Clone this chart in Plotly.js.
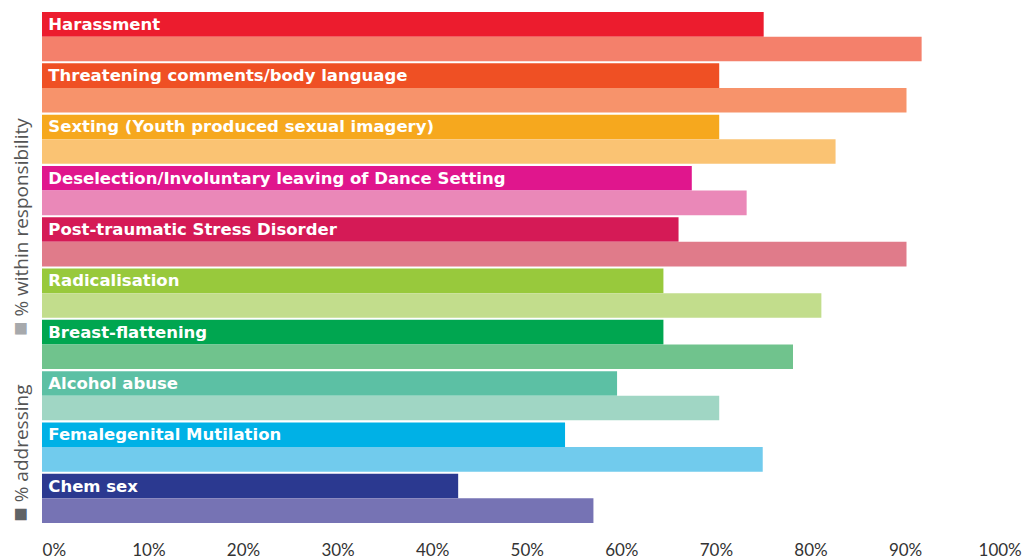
<!DOCTYPE html>
<html>
<head>
<meta charset="utf-8">
<script src="https://cdn.plot.ly/plotly-3.0.1.min.js"></script>
<style>
  html, body { margin: 0; padding: 0; background: #ffffff; }
  #chart { width: 1030px; height: 560px; }
</style>
</head>
<body>
<div id="chart"></div>
<script>
const categories = [
  "Harassment",
  "Threatening comments/body language",
  "Sexting (Youth produced sexual imagery)",
  "Deselection/Involuntary leaving of Dance Setting",
  "Post-traumatic Stress Disorder",
  "Radicalisation",
  "Breast-flattening",
  "Alcohol abuse",
  "Femalegenital Mutilation",
  "Chem sex"
];
const addressing = [75, 70.3, 70.3, 67.4, 66, 64.4, 64.4, 59.5, 54, 42.7];
const withinResponsibility = [91.7, 90.1, 82.6, 73.2, 90.1, 81.1, 78.1, 70.3, 74.9, 57];
const tickValues = [0, 10, 20, 30, 40, 50, 60, 70, 80, 90, 100];
const tickLabels = ["0%", "10%", "20%", "30%", "40%", "50%", "60%", "70%", "80%", "90%", "100%"];

const darkColors = ["#ec1c2e", "#ef5024", "#f6a81e", "#e0168d", "#d51a56", "#98c93c", "#00a650", "#5cc0a4", "#00b1e6", "#2b3990"];
const lightColors = ["#f4806b", "#f7936b", "#fac373", "#ea88b8", "#e07b8a", "#c2dd8c", "#70c38d", "#a0d6c4", "#71cbed", "#7673b4"];

const barStart = -1.3;

const traces = [
  {
    type: "bar",
    orientation: "h",
    name: "% addressing",
    y: categories,
    x: addressing.map(v => v - barStart),
    base: barStart,
    marker: { color: darkColors, line: { width: 0 } },
    text: categories.map(c => "\u2009" + c),
    textposition: "inside",
    insidetextanchor: "start",
    constraintext: "none",
    textfont: { family: "'DejaVu Sans', 'Liberation Sans', sans-serif", size: 16.5, color: "#ffffff", weight: "bold" },
    hoverinfo: "skip"
  },
  {
    type: "bar",
    orientation: "h",
    name: "% within responsibility",
    y: categories,
    x: withinResponsibility.map(v => v - barStart),
    base: barStart,
    marker: { color: lightColors, line: { width: 0 } },
    hoverinfo: "skip"
  }
];

const layout = {
  width: 1030,
  height: 560,
  margin: { l: 42, r: 10, t: 11, b: 36 },
  paper_bgcolor: "#ffffff",
  plot_bgcolor: "#ffffff",
  showlegend: false,
  barmode: "group",
  bargap: 0.04,
  bargroupgap: 0,
  xaxis: {
    range: [barStart, 102.1],
    tickvals: tickValues,
    ticktext: tickLabels,
    showgrid: false,
    zeroline: false,
    showline: false,
    ticks: "outside",
    ticklen: 11,
    tickcolor: "rgba(0,0,0,0)",
    automargin: false,
    tickfont: { family: "Lato, 'Open Sans', sans-serif", size: 17, color: "#333333" }
  },
  yaxis: {
    type: "category",
    categoryorder: "array",
    categoryarray: categories,
    autorange: "reversed",
    showticklabels: false,
    showgrid: false,
    zeroline: false,
    showline: false,
    ticks: "",
    automargin: false
  },
  annotations: [
    {
      xref: "paper", yref: "paper",
      x: -0.024, y: 0.138,
      xanchor: "center", yanchor: "middle",
      textangle: -90,
      showarrow: false,
      text: "<span style='color:#5f6366;font-size:24px'>■</span> % addressing",
      font: { family: "'Open Sans', sans-serif", size: 19, color: "#555555" }
    },
    {
      xref: "paper", yref: "paper",
      x: -0.024, y: 0.578,
      xanchor: "center", yanchor: "middle",
      textangle: -90,
      showarrow: false,
      text: "<span style='color:#a7a9ac;font-size:24px'>■</span> % within responsibility",
      font: { family: "'Open Sans', sans-serif", size: 19, color: "#555555" }
    }
  ]
};

Plotly.newPlot("chart", traces, layout, { displayModeBar: false, staticPlot: true });
</script>
</body>
</html>
